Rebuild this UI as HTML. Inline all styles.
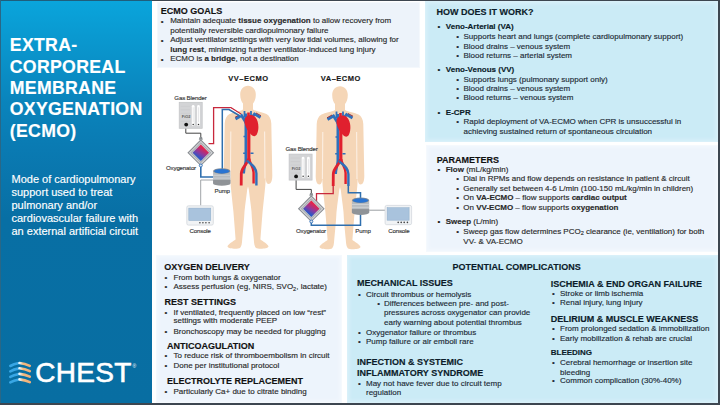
<!DOCTYPE html>
<html><head><meta charset="utf-8">
<style>
html,body{margin:0;padding:0;}
body{width:720px;height:405px;position:relative;overflow:hidden;background:#ffffff;font-family:"Liberation Sans",sans-serif;}
.p{position:absolute;box-sizing:border-box;}
.t{position:absolute;white-space:nowrap;-webkit-text-stroke:0.15px currentColor;}
.t b{font-weight:bold;}
.t sub{font-size:70%;vertical-align:baseline;position:relative;top:0.25em;line-height:0;}
</style></head><body>
<div class="p" style="left:0;top:0;width:152px;height:405px;background:linear-gradient(180deg,#0aa5dc 0%,#0a99d0 9%,#0a84bc 25%,#0a7ab2 37%,#086fa4 54%,#086ea2 100%);"></div>
<div class="p" style="left:157px;top:2px;width:263px;height:66px;background:#edf3fa;border:1px solid #f4f8fc;"></div>
<div class="p" style="left:425px;top:1px;width:293px;height:141px;background:#cbebf6;border:1px solid #d9f0f9;box-shadow:inset 0 0 3px 2px #d6eff9;"></div>
<div class="p" style="left:426px;top:145px;width:292px;height:107px;background:#edf4fc;border:1px solid #f5f9fd;box-shadow:inset 0 0 3px 2px #f2f7fd;"></div>
<div class="p" style="left:156px;top:255px;width:186px;height:148px;background:#edf4fc;border:1px solid #f5f9fd;box-shadow:inset 0 0 3px 2px #f2f7fd;"></div>
<div class="p" style="left:347px;top:255px;width:371px;height:148px;background:#cbebf6;border:1px solid #d9f0f9;box-shadow:inset 0 0 3px 2px #d6eff9;"></div>
<svg class="p" style="left:0;top:0" width="720" height="405" viewBox="0 0 720 405">
<defs>
<linearGradient id="oxg" x1="0.75" y1="0.1" x2="0.25" y2="0.9">
<stop offset="0.15" stop-color="#e6224a"/><stop offset="0.55" stop-color="#8a3aa0"/><stop offset="0.85" stop-color="#2a58c6"/>
</linearGradient>
<g id="body">
<path fill="#f5d6b7" d="M0,86.2 C4.6,86.2 7.8,89.8 7.8,95 C7.8,99.5 6.5,102 5,104 L5,110 C8,111.8 15,112.8 18.5,114.5 C21.5,116 23,119.5 23.3,124 L23.8,150 L24.3,176 C24.3,181 23,184.5 20.5,184.5 C18.5,184.5 17.8,181 17.8,178 L17.3,186 C16.5,195 15.5,203 14.6,212 C13.8,222 13,232 12.4,240 C15,242 20,244.5 20.5,247 C20,249.5 10,249.8 8,248.5 C6.5,247 6,244 5.8,240 C4.8,230 4,222 3.5,212 C2.5,203 1.5,196 0.8,190 L0,187 L-0.8,190 C-1.5,196 -2.5,203 -3.5,212 C-4,222 -4.8,230 -5.8,240 C-6,244 -6.5,247 -8,248.5 C-10,249.8 -20,249.5 -20.5,247 C-20,244.5 -15,242 -12.4,240 C-13,232 -13.8,222 -14.6,212 C-15.5,203 -16.5,195 -17.3,186 L-17.8,178 C-17.8,181 -18.5,184.5 -20.5,184.5 C-23,184.5 -24.3,181 -24.3,176 L-23.8,150 L-23.3,124 C-23,119.5 -21.5,116 -18.5,114.5 C-15,112.8 -8,111.8 -5,110 L-5,104 C-6.5,102 -7.8,99.5 -7.8,95 C-7.8,89.8 -4.6,86.2 0,86.2 Z"/>
<path fill="none" stroke="#fcefe3" stroke-width="1.1" d="M-17.2,132 L-17.6,179 M16.6,132 L17,179"/>
<!-- vessels -->
<path fill="none" stroke="#2f6fba" stroke-width="2.6" d="M-2.2,114 L-2.2,161 C-2.3,165 -4.2,168 -4.3,174"/>
<path fill="none" stroke="#e0202e" stroke-width="3.2" d="M0.8,124 L0.8,161"/>
<path fill="none" stroke="#e0202e" stroke-width="2.8" d="M0.4,159 C0,165 -6.5,167 -6.7,174 L-6.8,186"/>
<path fill="none" stroke="#e0202e" stroke-width="2.4" d="M1.2,159 C1.6,164 5.5,167 5.6,173 L5.6,184"/>
<path fill="none" stroke="#2f6fba" stroke-width="2.4" d="M-1,161 C3,165 8.2,167 8.4,174 L8.4,186"/>
<path fill="none" stroke="#2f6fba" stroke-width="1.4" d="M-4.8,153.8 L-1.5,153.8 M2.5,153.8 L5.5,153.8 M-4.5,137 L-2,137"/>
<path fill="none" stroke="#2f6fba" stroke-width="2.8" d="M-1.5,124 L-6.5,116 L-12.5,119.5 M1.5,121 L6.5,114.5 L12.5,118"/>
<path fill="none" stroke="#2f6fba" stroke-width="1.8" d="M-3.5,118 L-3.5,111.5 M3,117 L3,111.5"/>
<path fill="none" stroke="#8c2535" stroke-width="0.9" d="M-8,115 L-13,117.8 M8,113.5 L13,116.2"/>
<path fill="#e0202e" d="M-2.8,118.5 C-1,115 4,114.5 7.2,117.5 C11,121.5 11.2,130 9,134.5 C7.8,137 5.5,137.5 3,135 C0.2,132 -2.8,127.5 -3.4,123.5 C-3.6,121.5 -3.4,119.8 -2.8,118.5 Z"/><path fill="none" stroke="#e0202e" stroke-width="2.6" d="M0.5,120 L0.5,113"/>
</g>
<g id="blender">
<rect x="0" y="0" width="23" height="26" fill="#d3d4d6" stroke="#c2c3c5" stroke-width="0.7"/>
<path stroke="#c6c7c9" stroke-width="0.5" d="M1.5,4 H11 M1.5,7.5 H11 M1.5,11 H11 M1.5,19 H11"/>
<rect x="12.6" y="2.6" width="2.8" height="21.2" rx="1.4" fill="#ffffff"/>
<rect x="17.9" y="2.6" width="2.8" height="21.2" rx="1.4" fill="#ffffff"/>
<path stroke="#d8d9db" stroke-width="0.6" d="M14,5 V20 M19.3,5 V20"/>
<circle cx="7" cy="22.3" r="1.9" fill="#111"/>
<circle cx="14" cy="22.2" r="0.75" fill="#333"/>
<circle cx="19.3" cy="22.2" r="0.75" fill="#333"/>
<text x="2.6" y="16" font-size="3.9" font-family="Liberation Sans" font-weight="bold" fill="#5a5a5a">FiO2</text>
</g>
<g id="oxy">
<path d="M0,-13.4 L13.4,0 L0,13.4 L-13.4,0 Z" fill="#868a8f"/>
<path d="M0,-12 L12,0 L0,12 L-12,0 Z" fill="#d2d4d6"/>
<path d="M0,-10.4 L10.4,0 L0,10.4 L-10.4,0 Z" fill="#a3a7ab"/>
<path d="M0,-9.4 L9.4,0 L0,9.4 L-9.4,0 Z" fill="#c4c7ca"/>
<path d="M0,-8.2 L8.2,0 L0,8.2 L-8.2,0 Z" fill="url(#oxg)"/>
<path d="M-1.2,-15.6 L1.2,-15.6 L2,-13 L-2,-13 Z" fill="#8a8e92"/>
<circle cx="0" cy="12.8" r="1.5" fill="#dfe6ee" stroke="#2f6fba" stroke-width="0.9"/>
</g>
<g id="pump">
<rect x="0" y="0" width="17.3" height="12" fill="#b7bbbf"/>
<path stroke="#d0d3d6" stroke-width="0.9" d="M0,4.2 H17.3 M0,7 H17.3"/>
<rect x="0" y="8.8" width="17.3" height="3.6" fill="#8f9397"/>
<ellipse cx="8.65" cy="12.3" rx="8.65" ry="2.3" fill="#8f9397"/>
<ellipse cx="8.65" cy="0" rx="8.65" ry="2.8" fill="#7f8a96"/>
<ellipse cx="8.65" cy="0.2" rx="7.6" ry="2.2" fill="#2a74d2"/>
</g>
<g id="console">
<rect x="0" y="0" width="26.5" height="19.3" rx="1.6" fill="#f1f3f5" stroke="#d3d8dd" stroke-width="0.8"/>
<rect x="2" y="2.3" width="22" height="12.5" fill="#a9c3dd" stroke="#8fadc9" stroke-width="0.5"/>
<circle cx="13.1" cy="17" r="0.8" fill="#444"/>
<circle cx="16.1" cy="17" r="0.8" fill="#444"/>
<circle cx="19.1" cy="17" r="0.8" fill="#444"/>
<circle cx="22.3" cy="17" r="0.8" fill="#444"/>
</g>
</defs>
<use href="#body" x="248" y="-0.5"/>
<use href="#body" x="340"/>
<!-- VV equipment -->
<path fill="none" stroke="#444" stroke-width="1" d="M185.8,125 L185.8,133.2 L200.8,133.2 L200.8,138"/>
<path fill="none" stroke="#a0a4a8" stroke-width="1" d="M213,180 L200.7,180 L200.7,205.5"/>
<path fill="none" stroke="#c8283c" stroke-width="1.3" d="M208.5,143.6 L213.6,143.6 L213.6,107.6 L231,107.6 L241,114"/>
<path fill="none" stroke="#ffffff" stroke-width="1" d="M230,108.6 L240.5,115"/><path fill="none" stroke="#2f6fae" stroke-width="1.5" d="M222.3,169 L222.3,109.6 L229,109.6 L240,116"/>
<path fill="none" stroke="#2f6fae" stroke-width="1.6" d="M200.8,164.5 L200.8,177 L213.5,177"/>
<use href="#blender" x="179.2" y="102.3"/>
<use href="#oxy" x="200.8" y="152.7"/>
<use href="#pump" x="213.1" y="171.1"/>
<use href="#console" x="186.8" y="205.8"/>
<!-- VA equipment -->
<path fill="none" stroke="#444" stroke-width="1" d="M296.1,178 L296.1,189.4 L311.3,189.4 L311.3,194"/>
<path fill="none" stroke="#c8283c" stroke-width="1.3" d="M316.5,202 L316.5,193.6 L333.2,193.6 L333.2,186"/>
<path fill="none" stroke="#2f6fae" stroke-width="1.5" d="M348.3,186 L348.3,192.8 L360.5,192.8 L360.5,199"/>
<path fill="none" stroke="#2f6fae" stroke-width="1.5" d="M360.5,213 L360.5,225.2 L311.3,225.2 L311.3,220"/>
<path fill="none" stroke="#9a9ea2" stroke-width="1" d="M369.2,210.2 L385.5,210.2"/>
<use href="#blender" x="289.1" y="154.1"/>
<use href="#oxy" x="311.3" y="208.7"/>
<use href="#pump" x="351.9" y="200.3"/>
<use href="#console" x="385.1" y="205.4"/>
</svg>

<!-- frame -->
<div class="p" style="left:0;top:0;width:720px;height:1px;background:#3d4650;"></div>
<div class="p" style="left:0;top:0;width:152px;height:1px;background:#1f5e7c;"></div>
<div class="p" style="left:0;top:0;width:1px;height:405px;background:#2a6786;"></div>
<div class="p" style="left:718px;top:0;width:2px;height:405px;background:#3d4650;"></div>
<div class="p" style="left:0;top:403px;width:720px;height:2px;background:#3d4650;"></div>

<svg class="p" style="left:0;top:350px" width="152" height="45" viewBox="0 350 152 45">
<defs><linearGradient id="org" x1="0" y1="0" x2="1" y2="0"><stop offset="0" stop-color="#eaf6fb"/><stop offset="0.35" stop-color="#f3b97f"/><stop offset="1" stop-color="#f0b07a"/></linearGradient></defs>
<g stroke-linecap="round" fill="none" stroke-width="2.6">
<path stroke="#38a6e4" d="M10.3,366 Q14,364 18,363.3"/>
<path stroke="#38a6e4" d="M10.3,371.3 Q14,369.3 18,368.6"/>
<path stroke="#38a6e4" d="M10.3,376.9 Q14,374.9 18,374.2"/>
<path stroke="#38a6e4" d="M10.3,382.4 Q14,380.4 18,379.7"/>
<path stroke="url(#org)" d="M19.5,363 Q25,363.5 29.8,365.8"/>
<path stroke="url(#org)" d="M19.5,368.3 Q25,368.8 29.8,371.1"/>
<path stroke="url(#org)" d="M19.5,373.9 Q25,374.4 29.8,376.7"/>
<path stroke="url(#org)" d="M19.5,379.4 Q25,379.9 29.8,382.2"/>
</g>
</svg>

<div class="t" style="left:9.80px;top:36.18px;font-size:17.7px;line-height:19.774px;color:#ffffff;font-weight:bold;font-family:'Liberation Sans',sans-serif;letter-spacing:0.3px;">EXTRA-</div>
<div class="t" style="left:9.80px;top:57.58px;font-size:17.7px;line-height:19.774px;color:#ffffff;font-weight:bold;font-family:'Liberation Sans',sans-serif;letter-spacing:0.3px;">CORPOREAL</div>
<div class="t" style="left:9.80px;top:78.98px;font-size:17.7px;line-height:19.774px;color:#ffffff;font-weight:bold;font-family:'Liberation Sans',sans-serif;letter-spacing:0.3px;">MEMBRANE</div>
<div class="t" style="left:9.80px;top:100.38px;font-size:17.7px;line-height:19.774px;color:#ffffff;font-weight:bold;font-family:'Liberation Sans',sans-serif;letter-spacing:0.3px;">OXYGENATION</div>
<div class="t" style="left:9.80px;top:121.78px;font-size:17.7px;line-height:19.774px;color:#ffffff;font-weight:bold;font-family:'Liberation Sans',sans-serif;letter-spacing:0.3px;">(ECMO)</div>
<div class="t" style="left:11.50px;top:173.04px;font-size:11px;line-height:12.289px;color:#ffffff;font-weight:normal;font-family:'Liberation Sans',sans-serif;">Mode of cardiopulmonary</div>
<div class="t" style="left:11.50px;top:185.94px;font-size:11px;line-height:12.289px;color:#ffffff;font-weight:normal;font-family:'Liberation Sans',sans-serif;">support used to treat</div>
<div class="t" style="left:11.50px;top:198.84px;font-size:11px;line-height:12.289px;color:#ffffff;font-weight:normal;font-family:'Liberation Sans',sans-serif;">pulmonary and/or</div>
<div class="t" style="left:11.50px;top:211.74px;font-size:11px;line-height:12.289px;color:#ffffff;font-weight:normal;font-family:'Liberation Sans',sans-serif;">cardiovascular failure with</div>
<div class="t" style="left:11.50px;top:224.64px;font-size:11px;line-height:12.289px;color:#ffffff;font-weight:normal;font-family:'Liberation Sans',sans-serif;">an external artificial circuit</div>
<div class="t" style="left:160.80px;top:6.05px;font-size:9px;line-height:10.055px;color:#111111;font-weight:bold;font-family:'Liberation Sans',sans-serif;">ECMO GOALS</div>
<div class="t" style="left:160.80px;top:17.86px;font-size:8px;line-height:8.938px;color:#2a2a2a;font-weight:normal;font-family:'Liberation Sans',sans-serif;">&#8226;</div>
<div class="t" style="left:170.20px;top:17.06px;font-size:8px;line-height:8.938px;color:#2a2a2a;font-weight:normal;font-family:'Liberation Sans',sans-serif;">Maintain adequate <b>tissue oxygenation</b> to allow recovery from</div>
<div class="t" style="left:170.20px;top:26.56px;font-size:8px;line-height:8.938px;color:#2a2a2a;font-weight:normal;font-family:'Liberation Sans',sans-serif;">potentially reversible cardiopulmonary failure</div>
<div class="t" style="left:160.80px;top:36.96px;font-size:8px;line-height:8.938px;color:#2a2a2a;font-weight:normal;font-family:'Liberation Sans',sans-serif;">&#8226;</div>
<div class="t" style="left:170.20px;top:36.16px;font-size:8px;line-height:8.938px;color:#2a2a2a;font-weight:normal;font-family:'Liberation Sans',sans-serif;">Adjust ventilator settings with very low tidal volumes, allowing for</div>
<div class="t" style="left:170.20px;top:45.66px;font-size:8px;line-height:8.938px;color:#2a2a2a;font-weight:normal;font-family:'Liberation Sans',sans-serif;"><b>lung rest</b>, minimizing further ventilator-induced lung injury</div>
<div class="t" style="left:160.80px;top:56.26px;font-size:8px;line-height:8.938px;color:#2a2a2a;font-weight:normal;font-family:'Liberation Sans',sans-serif;">&#8226;</div>
<div class="t" style="left:170.20px;top:55.46px;font-size:8px;line-height:8.938px;color:#2a2a2a;font-weight:normal;font-family:'Liberation Sans',sans-serif;">ECMO is <b>a bridge</b>, not a destination</div>
<div class="t" style="left:436.50px;top:6.95px;font-size:9px;line-height:10.055px;color:#0c1c2a;font-weight:bold;font-family:'Liberation Sans',sans-serif;">HOW DOES IT WORK?</div>
<div class="t" style="left:437.50px;top:22.91px;font-size:8px;line-height:8.938px;color:#0c1c2a;font-weight:normal;font-family:'Liberation Sans',sans-serif;">&#8226;</div>
<div class="t" style="left:445.80px;top:22.91px;font-size:8px;line-height:8.938px;color:#0c1c2a;font-weight:bold;font-family:'Liberation Sans',sans-serif;">Veno-Arterial (VA)</div>
<div class="t" style="left:456.30px;top:33.36px;font-size:8px;line-height:8.938px;color:#1e2c36;font-weight:normal;font-family:'Liberation Sans',sans-serif;">&#8226;</div>
<div class="t" style="left:463.50px;top:33.36px;font-size:8px;line-height:8.938px;color:#1e2c36;font-weight:normal;font-family:'Liberation Sans',sans-serif;">Supports heart and lungs (complete cardiopulmonary support)</div>
<div class="t" style="left:456.30px;top:42.66px;font-size:8px;line-height:8.938px;color:#1e2c36;font-weight:normal;font-family:'Liberation Sans',sans-serif;">&#8226;</div>
<div class="t" style="left:463.50px;top:42.66px;font-size:8px;line-height:8.938px;color:#1e2c36;font-weight:normal;font-family:'Liberation Sans',sans-serif;">Blood drains &#8211; venous system</div>
<div class="t" style="left:456.30px;top:51.86px;font-size:8px;line-height:8.938px;color:#1e2c36;font-weight:normal;font-family:'Liberation Sans',sans-serif;">&#8226;</div>
<div class="t" style="left:463.50px;top:51.86px;font-size:8px;line-height:8.938px;color:#1e2c36;font-weight:normal;font-family:'Liberation Sans',sans-serif;">Blood returns &#8211; arterial system</div>
<div class="t" style="left:437.50px;top:66.36px;font-size:8px;line-height:8.938px;color:#0c1c2a;font-weight:normal;font-family:'Liberation Sans',sans-serif;">&#8226;</div>
<div class="t" style="left:445.80px;top:66.36px;font-size:8px;line-height:8.938px;color:#0c1c2a;font-weight:bold;font-family:'Liberation Sans',sans-serif;">Veno-Venous (VV)</div>
<div class="t" style="left:456.30px;top:75.56px;font-size:8px;line-height:8.938px;color:#1e2c36;font-weight:normal;font-family:'Liberation Sans',sans-serif;">&#8226;</div>
<div class="t" style="left:463.50px;top:75.56px;font-size:8px;line-height:8.938px;color:#1e2c36;font-weight:normal;font-family:'Liberation Sans',sans-serif;">Supports lungs (pulmonary support only)</div>
<div class="t" style="left:456.30px;top:85.16px;font-size:8px;line-height:8.938px;color:#1e2c36;font-weight:normal;font-family:'Liberation Sans',sans-serif;">&#8226;</div>
<div class="t" style="left:463.50px;top:85.16px;font-size:8px;line-height:8.938px;color:#1e2c36;font-weight:normal;font-family:'Liberation Sans',sans-serif;">Blood drains &#8211; venous system</div>
<div class="t" style="left:456.30px;top:94.46px;font-size:8px;line-height:8.938px;color:#1e2c36;font-weight:normal;font-family:'Liberation Sans',sans-serif;">&#8226;</div>
<div class="t" style="left:463.50px;top:94.46px;font-size:8px;line-height:8.938px;color:#1e2c36;font-weight:normal;font-family:'Liberation Sans',sans-serif;">Blood returns &#8211; venous system</div>
<div class="t" style="left:437.50px;top:109.16px;font-size:8px;line-height:8.938px;color:#0c1c2a;font-weight:normal;font-family:'Liberation Sans',sans-serif;">&#8226;</div>
<div class="t" style="left:445.80px;top:109.16px;font-size:8px;line-height:8.938px;color:#0c1c2a;font-weight:bold;font-family:'Liberation Sans',sans-serif;">E-CPR</div>
<div class="t" style="left:456.30px;top:118.36px;font-size:8px;line-height:8.938px;color:#1e2c36;font-weight:normal;font-family:'Liberation Sans',sans-serif;">&#8226;</div>
<div class="t" style="left:463.50px;top:118.36px;font-size:8px;line-height:8.938px;color:#1e2c36;font-weight:normal;font-family:'Liberation Sans',sans-serif;">Rapid deployment of VA-ECMO when CPR is unsuccessful in</div>
<div class="t" style="left:463.50px;top:127.96px;font-size:8px;line-height:8.938px;color:#1e2c36;font-weight:normal;font-family:'Liberation Sans',sans-serif;">achieving sustained return of spontaneous circulation</div>
<div class="t" style="left:436.70px;top:154.75px;font-size:9px;line-height:10.055px;color:#111111;font-weight:bold;font-family:'Liberation Sans',sans-serif;">PARAMETERS</div>
<div class="t" style="left:437.50px;top:166.36px;font-size:8px;line-height:8.938px;color:#111111;font-weight:normal;font-family:'Liberation Sans',sans-serif;">&#8226;</div>
<div class="t" style="left:445.70px;top:166.36px;font-size:8px;line-height:8.938px;color:#2a2a2a;font-weight:normal;font-family:'Liberation Sans',sans-serif;"><b>Flow</b> (mL/kg/min)</div>
<div class="t" style="left:456.30px;top:175.46px;font-size:8px;line-height:8.938px;color:#2a2a2a;font-weight:normal;font-family:'Liberation Sans',sans-serif;">&#8226;</div>
<div class="t" style="left:463.30px;top:175.46px;font-size:8px;line-height:8.938px;color:#2a2a2a;font-weight:normal;font-family:'Liberation Sans',sans-serif;">Dial in RPMs and flow depends on resistance in patient &amp; circuit</div>
<div class="t" style="left:456.30px;top:185.26px;font-size:8px;line-height:8.938px;color:#2a2a2a;font-weight:normal;font-family:'Liberation Sans',sans-serif;">&#8226;</div>
<div class="t" style="left:463.30px;top:185.26px;font-size:8px;line-height:8.938px;color:#2a2a2a;font-weight:normal;font-family:'Liberation Sans',sans-serif;">Generally set between 4-6 L/min (100-150 mL/kg/min in children)</div>
<div class="t" style="left:456.30px;top:194.36px;font-size:8px;line-height:8.938px;color:#2a2a2a;font-weight:normal;font-family:'Liberation Sans',sans-serif;">&#8226;</div>
<div class="t" style="left:463.30px;top:194.36px;font-size:8px;line-height:8.938px;color:#2a2a2a;font-weight:normal;font-family:'Liberation Sans',sans-serif;">On <b>VA-ECMO</b> &#8211; flow supports <b>cardiac output</b></div>
<div class="t" style="left:456.30px;top:203.96px;font-size:8px;line-height:8.938px;color:#2a2a2a;font-weight:normal;font-family:'Liberation Sans',sans-serif;">&#8226;</div>
<div class="t" style="left:463.30px;top:203.96px;font-size:8px;line-height:8.938px;color:#2a2a2a;font-weight:normal;font-family:'Liberation Sans',sans-serif;">On <b>VV-ECMO</b> &#8211; flow supports <b>oxygenation</b></div>
<div class="t" style="left:437.50px;top:218.16px;font-size:8px;line-height:8.938px;color:#111111;font-weight:normal;font-family:'Liberation Sans',sans-serif;">&#8226;</div>
<div class="t" style="left:445.70px;top:218.16px;font-size:8px;line-height:8.938px;color:#2a2a2a;font-weight:normal;font-family:'Liberation Sans',sans-serif;"><b>Sweep</b> (L/min)</div>
<div class="t" style="left:456.30px;top:228.06px;font-size:8px;line-height:8.938px;color:#2a2a2a;font-weight:normal;font-family:'Liberation Sans',sans-serif;">&#8226;</div>
<div class="t" style="left:463.30px;top:228.06px;font-size:8px;line-height:8.938px;color:#2a2a2a;font-weight:normal;font-family:'Liberation Sans',sans-serif;">Sweep gas flow determines PCO<sub>2</sub> clearance (ie, ventilation) for both</div>
<div class="t" style="left:463.30px;top:237.56px;font-size:8px;line-height:8.938px;color:#2a2a2a;font-weight:normal;font-family:'Liberation Sans',sans-serif;">VV- &amp; VA-ECMO</div>
<div class="t" style="left:164.20px;top:262.35px;font-size:9px;line-height:10.055px;color:#111111;font-weight:bold;font-family:'Liberation Sans',sans-serif;">OXYGEN DELIVERY</div>
<div class="t" style="left:164.60px;top:274.16px;font-size:8px;line-height:8.938px;color:#2a2a2a;font-weight:normal;font-family:'Liberation Sans',sans-serif;">&#8226;</div>
<div class="t" style="left:173.50px;top:274.16px;font-size:8px;line-height:8.938px;color:#2a2a2a;font-weight:normal;font-family:'Liberation Sans',sans-serif;">From both lungs &amp; oxygenator</div>
<div class="t" style="left:164.60px;top:283.46px;font-size:8px;line-height:8.938px;color:#2a2a2a;font-weight:normal;font-family:'Liberation Sans',sans-serif;">&#8226;</div>
<div class="t" style="left:173.50px;top:283.46px;font-size:8px;line-height:8.938px;color:#2a2a2a;font-weight:normal;font-family:'Liberation Sans',sans-serif;">Assess perfusion (eg, NIRS, SVO<sub>2</sub>, lactate)</div>
<div class="t" style="left:164.50px;top:296.95px;font-size:9px;line-height:10.055px;color:#111111;font-weight:bold;font-family:'Liberation Sans',sans-serif;">REST SETTINGS</div>
<div class="t" style="left:164.60px;top:308.56px;font-size:8px;line-height:8.938px;color:#2a2a2a;font-weight:normal;font-family:'Liberation Sans',sans-serif;">&#8226;</div>
<div class="t" style="left:173.50px;top:308.56px;font-size:8px;line-height:8.938px;color:#2a2a2a;font-weight:normal;font-family:'Liberation Sans',sans-serif;">If ventilated, frequently placed on low &#8220;rest&#8221;</div>
<div class="t" style="left:173.50px;top:317.16px;font-size:8px;line-height:8.938px;color:#2a2a2a;font-weight:normal;font-family:'Liberation Sans',sans-serif;">settings with moderate PEEP</div>
<div class="t" style="left:164.60px;top:327.86px;font-size:8px;line-height:8.938px;color:#2a2a2a;font-weight:normal;font-family:'Liberation Sans',sans-serif;">&#8226;</div>
<div class="t" style="left:173.50px;top:327.86px;font-size:8px;line-height:8.938px;color:#2a2a2a;font-weight:normal;font-family:'Liberation Sans',sans-serif;">Bronchoscopy may be needed for plugging</div>
<div class="t" style="left:166.90px;top:340.85px;font-size:9px;line-height:10.055px;color:#111111;font-weight:bold;font-family:'Liberation Sans',sans-serif;">ANTICOAGULATION</div>
<div class="t" style="left:164.60px;top:352.46px;font-size:8px;line-height:8.938px;color:#2a2a2a;font-weight:normal;font-family:'Liberation Sans',sans-serif;">&#8226;</div>
<div class="t" style="left:173.50px;top:352.46px;font-size:8px;line-height:8.938px;color:#2a2a2a;font-weight:normal;font-family:'Liberation Sans',sans-serif;">To reduce risk of thromboembolism in circuit</div>
<div class="t" style="left:164.60px;top:361.66px;font-size:8px;line-height:8.938px;color:#2a2a2a;font-weight:normal;font-family:'Liberation Sans',sans-serif;">&#8226;</div>
<div class="t" style="left:173.50px;top:361.66px;font-size:8px;line-height:8.938px;color:#2a2a2a;font-weight:normal;font-family:'Liberation Sans',sans-serif;">Done per institutional protocol</div>
<div class="t" style="left:166.90px;top:375.65px;font-size:9px;line-height:10.055px;color:#111111;font-weight:bold;font-family:'Liberation Sans',sans-serif;">ELECTROLYTE REPLACEMENT</div>
<div class="t" style="left:164.60px;top:387.56px;font-size:8px;line-height:8.938px;color:#2a2a2a;font-weight:normal;font-family:'Liberation Sans',sans-serif;">&#8226;</div>
<div class="t" style="left:173.50px;top:387.56px;font-size:8px;line-height:8.938px;color:#2a2a2a;font-weight:normal;font-family:'Liberation Sans',sans-serif;">Particularly Ca+ due to citrate binding</div>
<div class="t" style="left:452.50px;top:261.85px;font-size:9px;line-height:10.055px;color:#0c1c2a;font-weight:bold;font-family:'Liberation Sans',sans-serif;">POTENTIAL COMPLICATIONS</div>
<div class="t" style="left:357.00px;top:278.45px;font-size:9px;line-height:10.055px;color:#0c1c2a;font-weight:bold;font-family:'Liberation Sans',sans-serif;">MECHANICAL ISSUES</div>
<div class="t" style="left:358.00px;top:290.86px;font-size:8px;line-height:8.938px;color:#1e2c36;font-weight:normal;font-family:'Liberation Sans',sans-serif;">&#8226;</div>
<div class="t" style="left:366.00px;top:290.86px;font-size:8px;line-height:8.938px;color:#1e2c36;font-weight:normal;font-family:'Liberation Sans',sans-serif;">Circuit thrombus or hemolysis</div>
<div class="t" style="left:377.30px;top:299.86px;font-size:8px;line-height:8.938px;color:#1e2c36;font-weight:normal;font-family:'Liberation Sans',sans-serif;">&#8226;</div>
<div class="t" style="left:384.00px;top:299.86px;font-size:8px;line-height:8.938px;color:#1e2c36;font-weight:normal;font-family:'Liberation Sans',sans-serif;">Differences between pre- and post-</div>
<div class="t" style="left:384.00px;top:309.36px;font-size:8px;line-height:8.938px;color:#1e2c36;font-weight:normal;font-family:'Liberation Sans',sans-serif;">pressures across oxygenator can provide</div>
<div class="t" style="left:384.00px;top:318.56px;font-size:8px;line-height:8.938px;color:#1e2c36;font-weight:normal;font-family:'Liberation Sans',sans-serif;">early warning about potential thrombus</div>
<div class="t" style="left:358.00px;top:328.66px;font-size:8px;line-height:8.938px;color:#1e2c36;font-weight:normal;font-family:'Liberation Sans',sans-serif;">&#8226;</div>
<div class="t" style="left:366.00px;top:328.66px;font-size:8px;line-height:8.938px;color:#1e2c36;font-weight:normal;font-family:'Liberation Sans',sans-serif;">Oxygenator failure or thrombus</div>
<div class="t" style="left:358.00px;top:338.46px;font-size:8px;line-height:8.938px;color:#1e2c36;font-weight:normal;font-family:'Liberation Sans',sans-serif;">&#8226;</div>
<div class="t" style="left:366.00px;top:338.46px;font-size:8px;line-height:8.938px;color:#1e2c36;font-weight:normal;font-family:'Liberation Sans',sans-serif;">Pump failure or air emboli rare</div>
<div class="t" style="left:357.00px;top:356.65px;font-size:9px;line-height:10.055px;color:#0c1c2a;font-weight:bold;font-family:'Liberation Sans',sans-serif;">INFECTION &amp; SYSTEMIC</div>
<div class="t" style="left:357.00px;top:367.75px;font-size:9px;line-height:10.055px;color:#0c1c2a;font-weight:bold;font-family:'Liberation Sans',sans-serif;">INFLAMMATORY SYNDROME</div>
<div class="t" style="left:358.00px;top:379.56px;font-size:8px;line-height:8.938px;color:#1e2c36;font-weight:normal;font-family:'Liberation Sans',sans-serif;">&#8226;</div>
<div class="t" style="left:366.00px;top:379.56px;font-size:8px;line-height:8.938px;color:#1e2c36;font-weight:normal;font-family:'Liberation Sans',sans-serif;">May not have fever due to circuit temp</div>
<div class="t" style="left:366.00px;top:388.56px;font-size:8px;line-height:8.938px;color:#1e2c36;font-weight:normal;font-family:'Liberation Sans',sans-serif;">regulation</div>
<div class="t" style="left:550.75px;top:278.60px;font-size:9px;line-height:10.055px;color:#0c1c2a;font-weight:bold;font-family:'Liberation Sans',sans-serif;">ISCHEMIA &amp; END ORGAN FAILURE</div>
<div class="t" style="left:552.00px;top:290.41px;font-size:8px;line-height:8.938px;color:#1e2c36;font-weight:normal;font-family:'Liberation Sans',sans-serif;">&#8226;</div>
<div class="t" style="left:560.00px;top:290.41px;font-size:8px;line-height:8.938px;color:#1e2c36;font-weight:normal;font-family:'Liberation Sans',sans-serif;">Stroke or limb ischemia</div>
<div class="t" style="left:552.00px;top:299.16px;font-size:8px;line-height:8.938px;color:#1e2c36;font-weight:normal;font-family:'Liberation Sans',sans-serif;">&#8226;</div>
<div class="t" style="left:560.00px;top:299.16px;font-size:8px;line-height:8.938px;color:#1e2c36;font-weight:normal;font-family:'Liberation Sans',sans-serif;">Renal injury, lung injury</div>
<div class="t" style="left:550.75px;top:313.60px;font-size:9px;line-height:10.055px;color:#0c1c2a;font-weight:bold;font-family:'Liberation Sans',sans-serif;">DELIRIUM &amp; MUSCLE WEAKNESS</div>
<div class="t" style="left:552.00px;top:325.41px;font-size:8px;line-height:8.938px;color:#1e2c36;font-weight:normal;font-family:'Liberation Sans',sans-serif;">&#8226;</div>
<div class="t" style="left:560.00px;top:325.41px;font-size:8px;line-height:8.938px;color:#1e2c36;font-weight:normal;font-family:'Liberation Sans',sans-serif;">From prolonged sedation &amp; immobilization</div>
<div class="t" style="left:552.00px;top:334.66px;font-size:8px;line-height:8.938px;color:#1e2c36;font-weight:normal;font-family:'Liberation Sans',sans-serif;">&#8226;</div>
<div class="t" style="left:560.00px;top:334.66px;font-size:8px;line-height:8.938px;color:#1e2c36;font-weight:normal;font-family:'Liberation Sans',sans-serif;">Early mobilization &amp; rehab are crucial</div>
<div class="t" style="left:550.75px;top:348.66px;font-size:8px;line-height:8.938px;color:#0c1c2a;font-weight:bold;font-family:'Liberation Sans',sans-serif;">BLEEDING</div>
<div class="t" style="left:552.00px;top:358.66px;font-size:8px;line-height:8.938px;color:#1e2c36;font-weight:normal;font-family:'Liberation Sans',sans-serif;">&#8226;</div>
<div class="t" style="left:560.00px;top:358.66px;font-size:8px;line-height:8.938px;color:#1e2c36;font-weight:normal;font-family:'Liberation Sans',sans-serif;">Cerebral hemorrhage or insertion site</div>
<div class="t" style="left:560.00px;top:368.66px;font-size:8px;line-height:8.938px;color:#1e2c36;font-weight:normal;font-family:'Liberation Sans',sans-serif;">bleeding</div>
<div class="t" style="left:552.00px;top:377.16px;font-size:8px;line-height:8.938px;color:#1e2c36;font-weight:normal;font-family:'Liberation Sans',sans-serif;">&#8226;</div>
<div class="t" style="left:560.00px;top:377.16px;font-size:8px;line-height:8.938px;color:#1e2c36;font-weight:normal;font-family:'Liberation Sans',sans-serif;">Common complication (30%-40%)</div>
<div class="t" style="left:35.30px;top:356.85px;font-size:28px;line-height:31.281px;color:#ffffff;font-weight:normal;font-family:'Liberation Sans',sans-serif;letter-spacing:0.3px;-webkit-text-stroke:0.6px #fff;">CHEST</div>
<div class="t" style="left:132.50px;top:363.97px;font-size:5px;line-height:5.586px;color:#ffffff;font-weight:normal;font-family:'Liberation Sans',sans-serif;-webkit-text-stroke:0;">&#174;</div>
<div class="t" style="left:228.30px;top:74.51px;font-size:7.5px;line-height:8.379px;color:#1a1a1a;font-weight:bold;font-family:'Liberation Sans',sans-serif;letter-spacing:0.5px;">VV&#8211;ECMO</div>
<div class="t" style="left:320.80px;top:74.51px;font-size:7.5px;line-height:8.379px;color:#1a1a1a;font-weight:bold;font-family:'Liberation Sans',sans-serif;letter-spacing:0.5px;">VA&#8211;ECMO</div>
<div class="t" style="left:174.30px;top:94.68px;font-size:6.1px;line-height:6.815px;color:#3a3a3a;font-weight:normal;font-family:'Liberation Sans',sans-serif;letter-spacing:-0.15px;-webkit-text-stroke:0.15px #333;">Gas Blender</div>
<div class="t" style="left:166.00px;top:164.88px;font-size:6.1px;line-height:6.815px;color:#3a3a3a;font-weight:normal;font-family:'Liberation Sans',sans-serif;letter-spacing:-0.15px;-webkit-text-stroke:0.15px #333;">Oxygenator</div>
<div class="t" style="left:214.50px;top:188.28px;font-size:6.1px;line-height:6.815px;color:#3a3a3a;font-weight:normal;font-family:'Liberation Sans',sans-serif;letter-spacing:-0.15px;-webkit-text-stroke:0.15px #333;">Pump</div>
<div class="t" style="left:189.50px;top:227.88px;font-size:6.1px;line-height:6.815px;color:#3a3a3a;font-weight:normal;font-family:'Liberation Sans',sans-serif;letter-spacing:-0.15px;-webkit-text-stroke:0.15px #333;">Console</div>
<div class="t" style="left:285.40px;top:145.98px;font-size:6.1px;line-height:6.815px;color:#3a3a3a;font-weight:normal;font-family:'Liberation Sans',sans-serif;letter-spacing:-0.15px;-webkit-text-stroke:0.15px #333;">Gas Blender</div>
<div class="t" style="left:296.00px;top:227.88px;font-size:6.1px;line-height:6.815px;color:#3a3a3a;font-weight:normal;font-family:'Liberation Sans',sans-serif;letter-spacing:-0.15px;-webkit-text-stroke:0.15px #333;">Oxygenator</div>
<div class="t" style="left:355.30px;top:227.88px;font-size:6.1px;line-height:6.815px;color:#3a3a3a;font-weight:normal;font-family:'Liberation Sans',sans-serif;letter-spacing:-0.15px;-webkit-text-stroke:0.15px #333;">Pump</div>
<div class="t" style="left:388.20px;top:227.88px;font-size:6.1px;line-height:6.815px;color:#3a3a3a;font-weight:normal;font-family:'Liberation Sans',sans-serif;letter-spacing:-0.15px;-webkit-text-stroke:0.15px #333;">Console</div>
</body></html>
